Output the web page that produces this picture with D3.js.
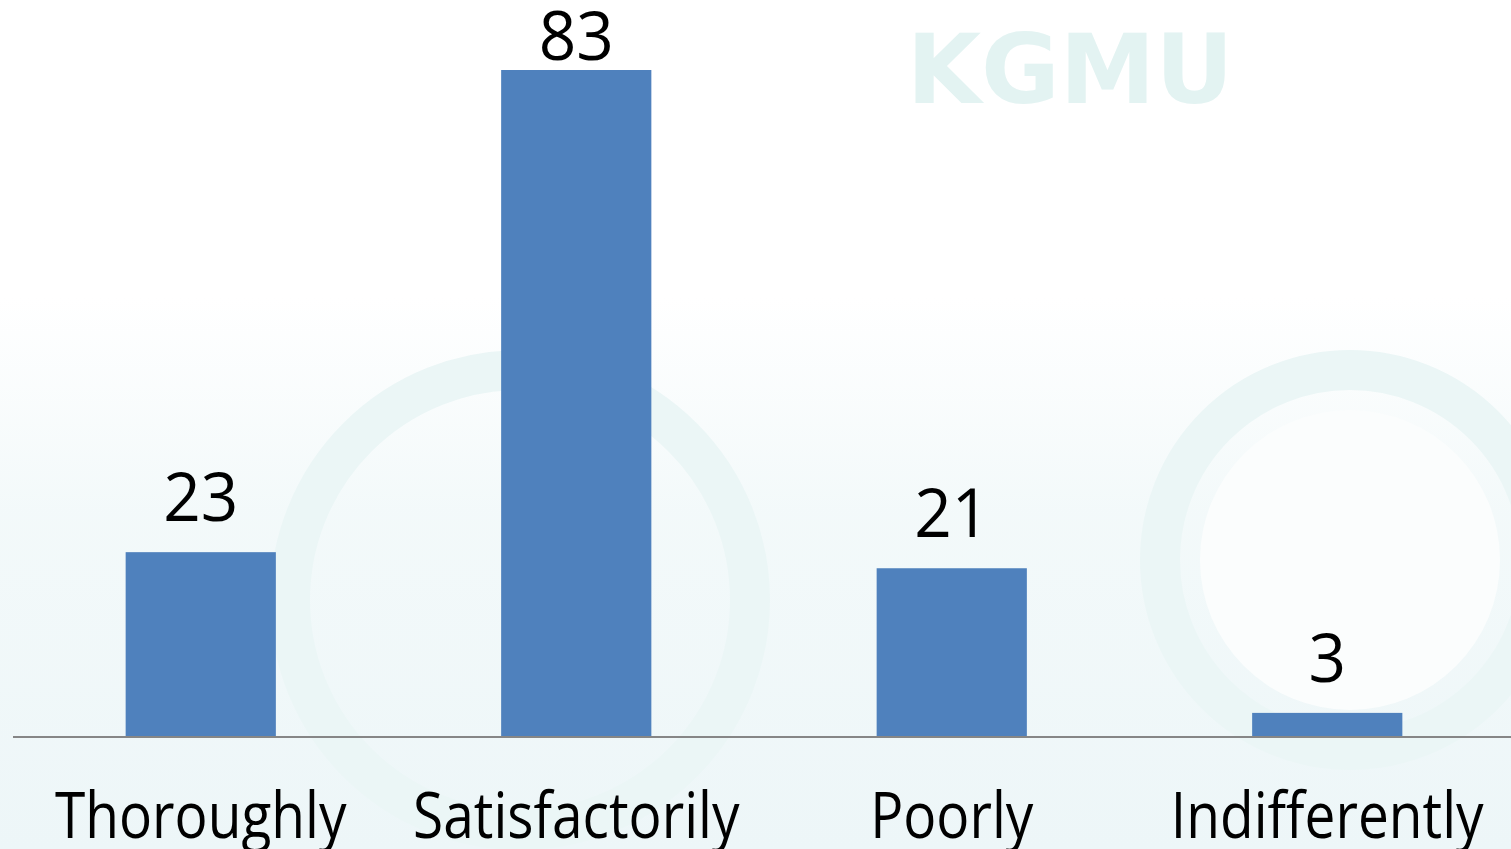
<!DOCTYPE html>
<html>
<head>
<meta charset="utf-8">
<script src="https://cdn.jsdelivr.net/npm/d3@7"></script>
<style>
  html, body { margin: 0; padding: 0; background: #fff; overflow: hidden; }
  svg { display: block; }
</style>
</head>
<body>
<svg id="chart" width="1511" height="849"></svg>
<script>
/* dados do grafico */
var categorias = ["Thoroughly", "Satisfactorily", "Poorly", "Indifferently"];
var valores = [23, 83, 21, 3];

var largura = 1511, altura = 849;
var fonte = "'Open Sans', 'Noto Sans', sans-serif";
var svg = d3.select("#chart");

/* fundo: marca d'agua bem clara */
var fundo = svg.append("g").attr("class", "fundo");
fundo.append("rect").attr("width", largura).attr("height", altura).attr("fill", "#ffffff");
var grad = svg.append("defs").append("linearGradient")
    .attr("id", "wash").attr("x1", 0).attr("y1", 0).attr("x2", 0).attr("y2", 1);
grad.append("stop").attr("offset", "0.35").attr("stop-color", "#eef7f8").attr("stop-opacity", 0);
grad.append("stop").attr("offset", "0.6").attr("stop-color", "#eef7f8").attr("stop-opacity", 0.7);
grad.append("stop").attr("offset", "1").attr("stop-color", "#edf6f8").attr("stop-opacity", 1);
fundo.append("rect").attr("width", largura).attr("height", altura).attr("fill", "url(#wash)");
fundo.append("circle").attr("cx", 520).attr("cy", 600).attr("r", 230)
    .attr("fill", "none").attr("stroke", "#ebf6f6").attr("stroke-width", 40);
fundo.append("circle").attr("cx", 1350).attr("cy", 560).attr("r", 190)
    .attr("fill", "none").attr("stroke", "#ebf6f6").attr("stroke-width", 40);
fundo.append("circle").attr("cx", 1350).attr("cy", 560).attr("r", 150)
    .attr("fill", "#fbfdfd");
fundo.append("text").attr("x", 1070).attr("y", 103)
    .attr("text-anchor", "middle")
    .attr("font-family", "'DejaVu Sans', sans-serif").attr("font-weight", "bold")
    .attr("font-size", 96).attr("fill", "#e3f3f2")
    .text("KGMU");

/* escalas */
var x = d3.scaleBand()
    .domain(categorias)
    .range([13, 1515])
    .paddingInner(0.6)
    .paddingOuter(0.3);

var y = d3.scaleLinear()
    .domain([0, 83])
    .range([737, 70]);

/* barras */
svg.append("g").selectAll("rect.barra")
    .data(valores)
    .enter().append("rect")
    .attr("class", "barra")
    .attr("x", function(d, i){ return x(categorias[i]); })
    .attr("y", function(d){ return y(d); })
    .attr("width", x.bandwidth())
    .attr("height", function(d){ return y(0) - y(d); })
    .attr("fill", "#4f81bd");

/* eixo x */
var eixo = svg.append("g")
    .attr("transform", "translate(0," + y(0) + ")")
    .call(d3.axisBottom(x).tickSize(0).tickPadding(0));
eixo.select(".domain").attr("d", "M13,0H1511").attr("stroke", "#868686").attr("stroke-width", 2);
eixo.selectAll(".tick text").remove();

/* rotulos das categorias */
var escala = 0.86;
svg.append("g").selectAll("text.cat")
    .data(categorias)
    .enter().append("text")
    .attr("class", "cat")
    .attr("transform", function(d){
        return "translate(" + (x(d) + x.bandwidth() / 2) + ",838) scale(" + escala + ",1)";
    })
    .attr("text-anchor", "middle")
    .attr("font-family", fonte)
    .attr("font-size", 64)
    .attr("fill", "#000")
    .text(function(d){ return d; });

/* rotulos dos valores */
svg.append("g").selectAll("text.valor")
    .data(valores)
    .enter().append("text")
    .attr("class", "valor")
    .attr("transform", function(d, i){
        var base = Math.max(y(d) - 31, 60);
        return "translate(" + (x(categorias[i]) + x.bandwidth() / 2) + "," + base + ") scale(0.98,1)";
    })
    .attr("text-anchor", "middle")
    .attr("font-family", fonte)
    .attr("font-size", 67)
    .attr("fill", "#000")
    .text(function(d){ return d; });
</script>
</body>
</html>
